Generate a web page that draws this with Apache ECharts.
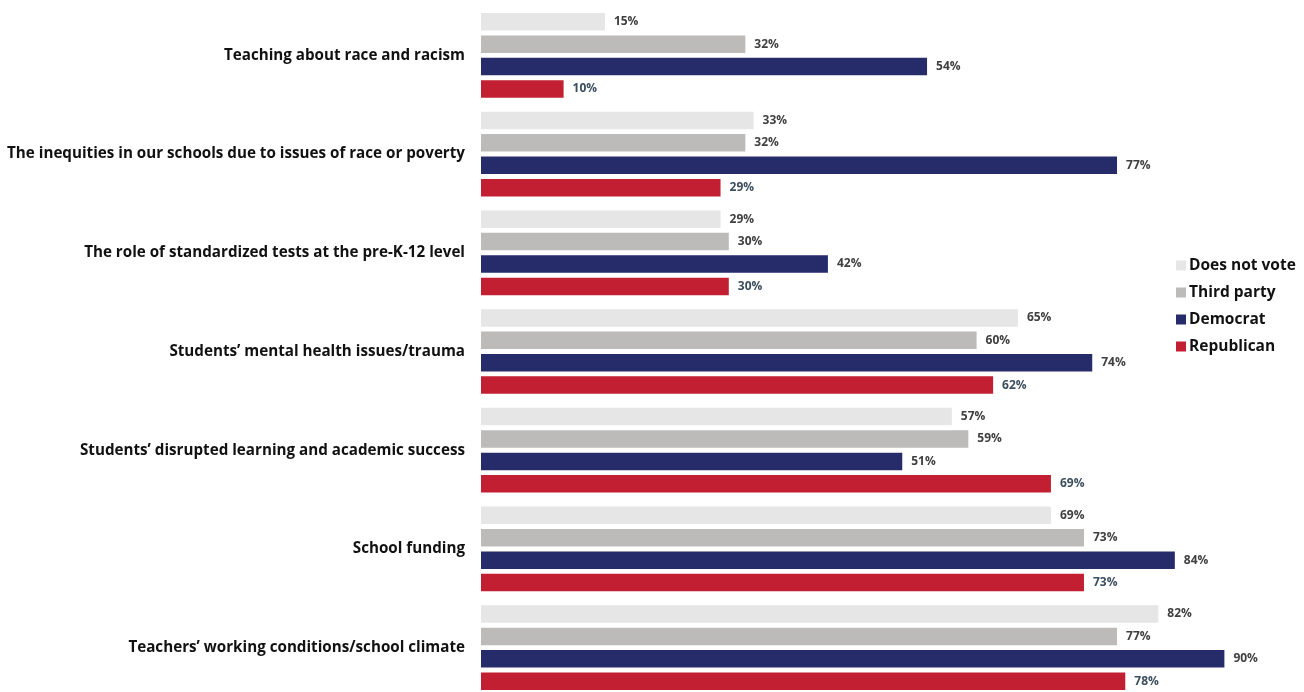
<!DOCTYPE html>
<html>
<head>
<meta charset="utf-8">
<script src="https://cdn.jsdelivr.net/npm/echarts@6/dist/echarts.min.js"></script>
<style>
  html, body { margin: 0; padding: 0; background: #ffffff; }
  #chart { width: 1304px; height: 692px; }
</style>
</head>
<body>
<div id="chart"></div>
<script>
// Issues, listed top to bottom
const categories = [
  'Teaching about race and racism',
  'The inequities in our schools due to issues of race or poverty',
  'The role of standardized tests at the pre-K-12 level',
  'Students\u2019 mental health issues/trauma',
  'Students\u2019 disrupted learning and academic success',
  'School funding',
  'Teachers\u2019 working conditions/school climate'
];

// Share (%) by voting group
const doesNotVote = [15, 33, 29, 65, 57, 69, 82];
const thirdParty  = [32, 32, 30, 60, 59, 73, 77];
const democrat    = [54, 77, 42, 74, 51, 84, 90];
const republican  = [10, 29, 30, 62, 69, 73, 78];

const seriesDefs = [
  { name: 'Does not vote', data: doesNotVote, color: '#E7E6E6', label: '#404040' },
  { name: 'Third party',   data: thirdParty,  color: '#BCBBB9', label: '#404040' },
  { name: 'Democrat',      data: democrat,    color: '#262B69', label: '#404040' },
  { name: 'Republican',    data: republican,  color: '#C21F32', label: '#3B4E5E' }
];

const FONT = '"Open Sans", "DejaVu Sans", sans-serif';

const chart = echarts.init(document.getElementById('chart'), null, { renderer: 'canvas' });

chart.setOption({
  animation: false,
  backgroundColor: '#ffffff',
  // the plot area runs slightly past the canvas edges; keep it unclamped
  grid: { left: 481, top: 6, width: 826, height: 691, containLabel: false, outerBoundsMode: 'none' },
  legend: {
    orient: 'vertical',
    left: 1171,
    top: 251,
    itemWidth: 10,
    itemHeight: 10,
    itemGap: 8,
    icon: 'rect',
    textStyle: { fontFamily: FONT, fontWeight: 'bold', fontSize: 15.5, lineHeight: 19, color: '#111111', padding: [0, 0, 0, -2] },
    data: seriesDefs.map(s => s.name)
  },
  xAxis: {
    type: 'value',
    min: 0,
    max: 100,
    show: false
  },
  yAxis: {
    type: 'category',
    inverse: true,
    data: categories,
    axisLine: { show: false },
    axisTick: { show: false },
    splitLine: { show: false },
    axisLabel: {
      margin: 16,
      fontFamily: FONT,
      fontWeight: 'bold',
      fontSize: 15.2,
      color: '#111111'
    }
  },
  series: seriesDefs.map(s => ({
    name: s.name,
    type: 'bar',
    data: s.data,
    barWidth: 17.5,
    barGap: '28%',
    itemStyle: { color: s.color },
    label: {
      show: true,
      position: 'right',
      distance: 9,
      formatter: '{c}%',
      fontFamily: FONT,
      fontWeight: 'bold',
      fontSize: 12,
      color: s.label
    }
  }))
});
</script>
</body>
</html>
